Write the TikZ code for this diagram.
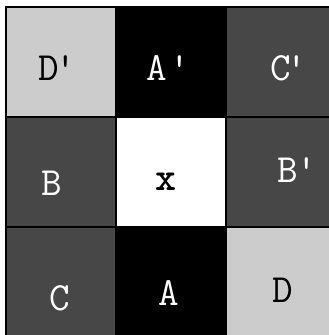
\documentclass[tikz,border=0pt]{standalone}
\begin{document}
\begin{tikzpicture}[x=1pt, y=-1pt,
    cell/.style={draw=black, line width=1.2pt},
    lbl/.style={font=\ttfamily\fontsize{40}{40}\selectfont, inner sep=0pt, anchor=base}]
    % Page of 329 x 335, y grows downward; 1 unit = 1 pixel of the grid
    \useasboundingbox (0,0) rectangle (329,335);
    \def\cs{110}    % side of one cell
    \def\ox{6}      % left edge of the grid
    \def\oy{7}      % top edge of the grid

    % Cells: column/row/fill
    \foreach \c/\r/\f in {0/0/black!20, 1/0/black, 2/0/black!72,
                          0/1/black!72, 1/1/white, 2/1/black!72,
                          0/2/black!72, 1/2/black, 2/2/black!20}
        \filldraw[cell, fill=\f] ({\ox+\c*\cs},{\oy+\r*\cs}) rectangle ++(\cs,\cs);

    % Outer frame
    \draw[line width=2.5pt] (\ox,\oy) rectangle ++({3*\cs},{3*\cs});

    % Labels (anchored on the letter, prime hangs to the right)
    \node[lbl, text=black] (Dp) at (49,80) {D\rlap{\kern-4pt'}};
    \node[lbl, text=white] (Ap) at (157,80) {A\rlap{\kern2pt'}};
    \node[lbl, text=white] (Cp) at (281,80) {C\rlap{\kern-5pt'}};
    \node[lbl, text=white] (B) at (52,195) {B};
    \node[lbl, text=black, font=\ttfamily\bfseries\fontsize{40}{40}\selectfont] (X) at (166,190) {x};
    \node[lbl, text=white] (Bp) at (288,182) {B\rlap{\kern-2pt'}};
    \node[lbl, text=white] (C) at (60,310) {C};
    \node[lbl, text=white] (A) at (169,305) {A};
    \node[lbl, text=black] (D) at (283,302) {D};
\end{tikzpicture}
\end{document}
